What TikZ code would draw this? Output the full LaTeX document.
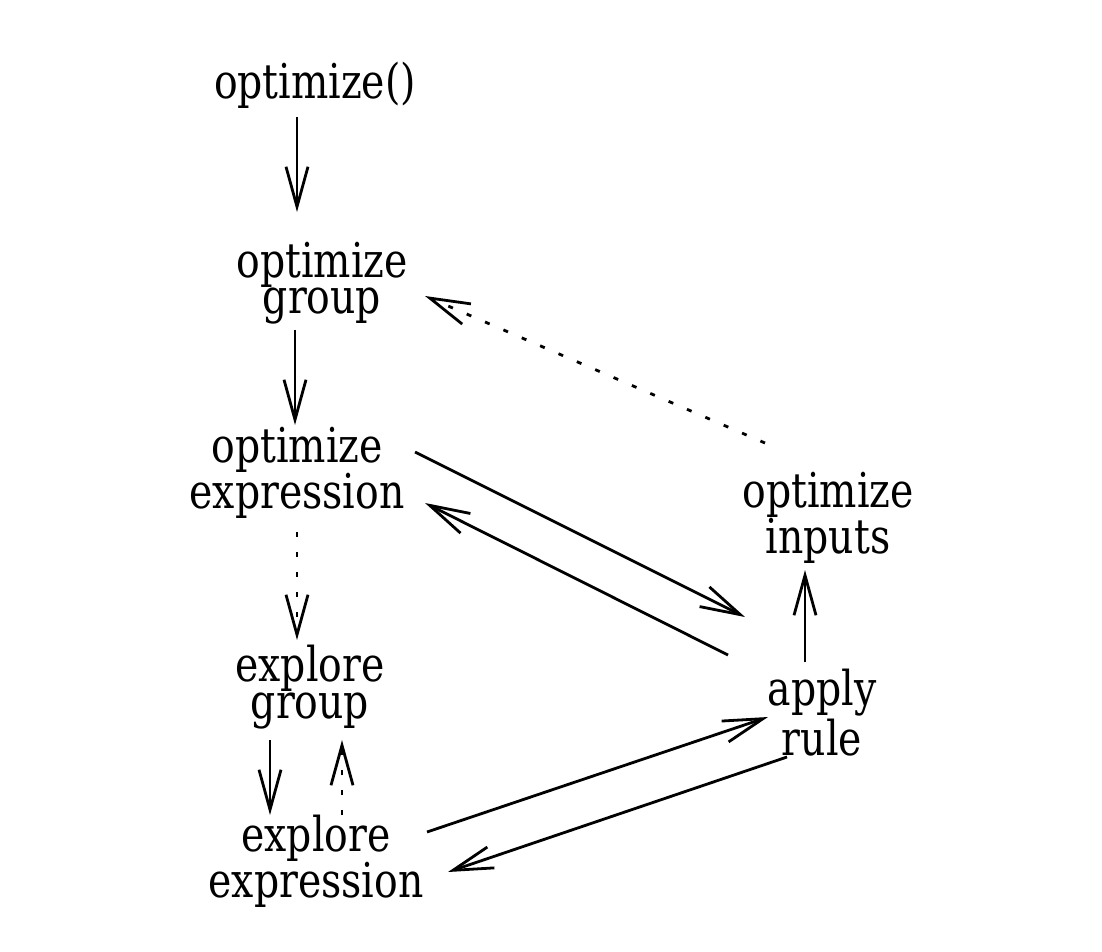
\documentclass[tikz,border=0pt]{standalone}
\usepackage{fontspec}
\setmainfont{DejaVu Serif}[FakeStretch=0.82]
\usetikzlibrary{arrows.meta,calc}
\begin{document}
\begin{tikzpicture}[x=1pt,y=-1pt,
  lbl/.style={align=center,inner sep=0pt,font={\fontsize{48}{35}\selectfont}},
  arr/.style={line width=2.8pt,-{Straight Barb[length=40pt,width=22pt,line width=2.8pt]}},
  dotarr/.style={arr,dash pattern=on 5pt off 15pt}]
\useasboundingbox (0,0) rectangle (1102,952);
\fill[white] (0,0) rectangle (1102,952);
\node[lbl] (opt) at (315,85) {optimize()};
\node[lbl] (og) at (322,283) {optimize\\group};
\node[lbl] (oe) at (297,473) {optimize\\expression};
\node[lbl,font={\fontsize{48}{33}\selectfont}] (eg) at (310,687) {explore\\group};
\node[lbl,font={\fontsize{48}{37}\selectfont}] (ee) at (316,861) {explore\\expression};
\node[lbl,font={\fontsize{48}{36}\selectfont}] (oi) at (828,518) {optimize\\inputs};
\node[lbl,font={\fontsize{48}{50}\selectfont}] (ar) at (822,713) {apply\\rule};
\draw[arr] ($(opt.center)+(-18,32)$) -- ($(og.center)+(-25,-71)$);
\draw[arr] ($(og.center)+(-27,47)$) -- ($(oe.center)+(-2,-48)$);
\draw[dotarr] ($(oe.center)+(0,59)$) -- ($(eg.center)+(-13,-47)$);
\draw[arr] ($(eg.center)+(-40,53)$) -- ($(ee.center)+(-46,-46)$);
\draw[dotarr] ($(ee.center)+(26,-46)$) -- ($(eg.center)+(32,53)$);
\draw[arr] ($(oe.center)+(118,-21)$) -- ($(ar.center)+(-77,-96)$);
\draw[arr] ($(ar.center)+(-94,-58)$) -- ($(oe.center)+(128,30)$);
\draw[arr] ($(ar.center)+(-17,-51)$) -- ($(oi.center)+(-23,52)$);
\draw[dotarr] ($(oi.center)+(-63,-75)$) -- ($(og.center)+(103,13)$);
\draw[arr] ($(ee.center)+(111,-29)$) -- ($(ar.center)+(-54,4)$);
\draw[arr] ($(ar.center)+(-35,44)$) -- ($(ee.center)+(132,11)$);
\end{tikzpicture}
\end{document}
